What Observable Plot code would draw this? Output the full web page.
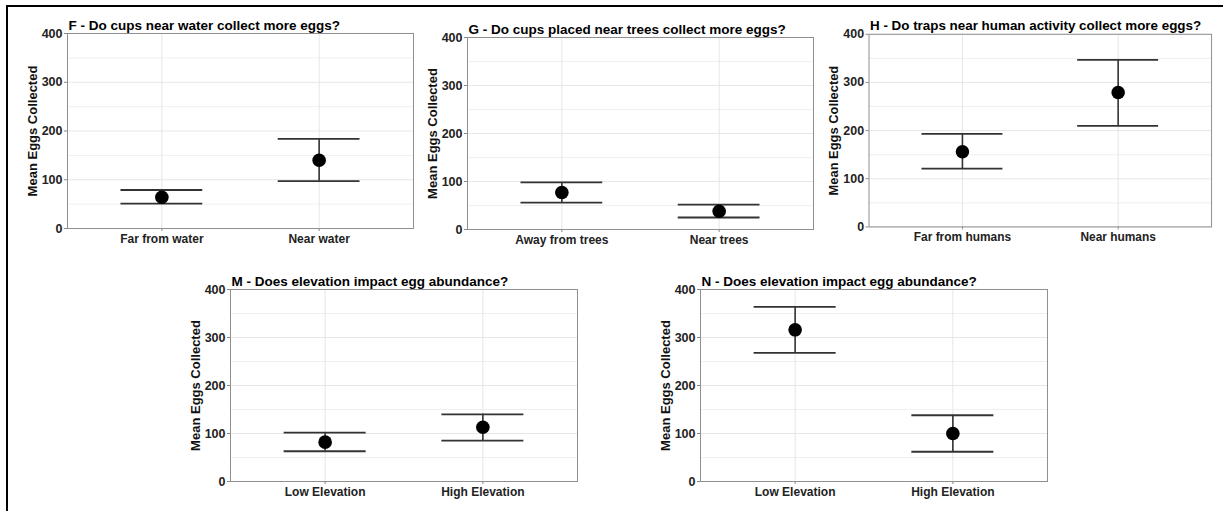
<!DOCTYPE html>
<html>
<head>
<meta charset="utf-8">
<script src="https://cdn.jsdelivr.net/npm/d3@7"></script>
<script src="https://cdn.jsdelivr.net/npm/@observablehq/plot@0.6"></script>
<style>
  html, body { margin: 0; padding: 0; background: #fff; }
  body { width: 1223px; height: 511px; position: relative; overflow: hidden; font-family: "Liberation Sans", Arial, sans-serif; }
  .border { position: absolute; left: 6px; top: 5px; width: 1230px; height: 520px; border-left: 2px solid #000; border-top: 2px solid #000; }
  .panel { position: absolute; }
</style>
</head>
<body>
<div class="border"></div>
<script>
// ---- data ----
const titles = [
  "F - Do cups near water collect more eggs?",
  "G - Do cups placed near trees collect more eggs?",
  "H - Do traps near human activity collect more eggs?",
  "M - Does elevation impact egg abundance?",
  "N - Does elevation impact egg abundance?"
];
const categoriesF = ["Far from water", "Near water"];
const meansF = [64, 140];
const lowerF = [51, 97];
const upperF = [79, 184];

const categoriesG = ["Away from trees", "Near trees"];
const meansG = [77, 38];
const lowerG = [56, 25];
const upperG = [98, 52];

const categoriesH = ["Far from humans", "Near humans"];
const meansH = [156, 279];
const lowerH = [121, 210];
const upperH = [193, 347];

const categoriesM = ["Low Elevation", "High Elevation"];
const meansM = [82, 113];
const lowerM = [63, 85];
const upperM = [102, 140];

const categoriesN = ["Low Elevation", "High Elevation"];
const meansN = [316, 100];
const lowerN = [268, 62];
const upperN = [364, 138];

const yTicks = [0, 100, 200, 300, 400];
const yMinor = [50, 150, 250, 350];
const yLabel = "Mean Eggs Collected";

// ---- layout (frame boxes in page pixels) ----
const layout = [
  {x0: 67, y0: 33, x1: 413, y1: 228},
  {x0: 467, y0: 37, x1: 813, y1: 229},
  {x0: 869, y0: 34, x1: 1214, y1: 228},
  {x0: 230, y0: 289, x1: 577, y1: 481},
  {x0: 700, y0: 289, x1: 1047, y1: 481}
];
const series = [
  [categoriesF, meansF, lowerF, upperF],
  [categoriesG, meansG, lowerG, upperG],
  [categoriesH, meansH, lowerH, upperH],
  [categoriesM, meansM, lowerM, upperM],
  [categoriesN, meansN, lowerN, upperN]
];

const mL = 70, mT = 30, mR = 12, mB = 28;
const capHalf = 0.26;

series.forEach(([cats, means, lows, highs], k) => {
  const box = layout[k];
  const data = cats.map((c, i) => ({pos: i + 1, cat: c, mean: means[i], lo: lows[i], hi: highs[i]}));
  const w = box.x1 - box.x0 + mL + mR;
  const h = box.y1 - box.y0 + mT + mB;
  const chart = Plot.plot({
    width: w,
    height: h,
    marginLeft: mL, marginTop: mT, marginRight: mR, marginBottom: mB,
    style: {fontFamily: "'Liberation Sans', Arial, sans-serif", background: "transparent", overflow: "visible"},
    x: {type: "linear", domain: [0.4, 2.6], ticks: [1, 2], tickFormat: d => cats[d - 1], tickSize: 3, label: null},
    y: {domain: [0, 400], ticks: yTicks, tickSize: 3, label: null},
    marks: [
      Plot.ruleY(yMinor, {stroke: "#f0f0f0", strokeWidth: 1}),
      Plot.ruleY(yTicks, {stroke: "#e6e6e6", strokeWidth: 1}),
      Plot.ruleX([1, 2], {stroke: "#e6e6e6", strokeWidth: 1}),
      Plot.axisX({ticks: [1, 2], tickFormat: d => cats[d - 1], tickSize: 3, tickPadding: 3, fontSize: 12, fontWeight: "bold", color: "#222", stroke: "#888"}),
      Plot.axisY({ticks: yTicks, tickSize: 3, tickPadding: 2, fontSize: 12.5, fontWeight: "bold", color: "#222", stroke: "#888", label: null}),
      Plot.ruleX(data, {x: "pos", y1: "lo", y2: "hi", stroke: "#333", strokeWidth: 1.6}),
      Plot.ruleY(data, {y: "hi", x1: d => d.pos - capHalf, x2: d => d.pos + capHalf, stroke: "#333", strokeWidth: 1.8}),
      Plot.ruleY(data, {y: "lo", x1: d => d.pos - capHalf, x2: d => d.pos + capHalf, stroke: "#333", strokeWidth: 1.8}),
      Plot.dot(data, {x: "pos", y: "mean", r: 6.8, fill: "#000", stroke: "none"}),
      Plot.frame({stroke: "#8f8f8f", strokeWidth: 1}),
      Plot.text([titles[k]], {frameAnchor: "top-left", dx: 1, dy: -4, textAnchor: "start", lineAnchor: "bottom", fontSize: 13.5, fontWeight: "bold", fill: "#000"}),
      Plot.text([yLabel], {frameAnchor: "left", rotate: -90, dx: -35, textAnchor: "middle", lineAnchor: "middle", fontSize: 13, fontWeight: "bold", fill: "#111"})
    ]
  });
  const div = document.createElement("div");
  div.className = "panel";
  div.style.left = (box.x0 - mL) + "px";
  div.style.top = (box.y0 - mT) + "px";
  div.appendChild(chart);
  document.body.appendChild(div);
});
</script>
</body>
</html>
